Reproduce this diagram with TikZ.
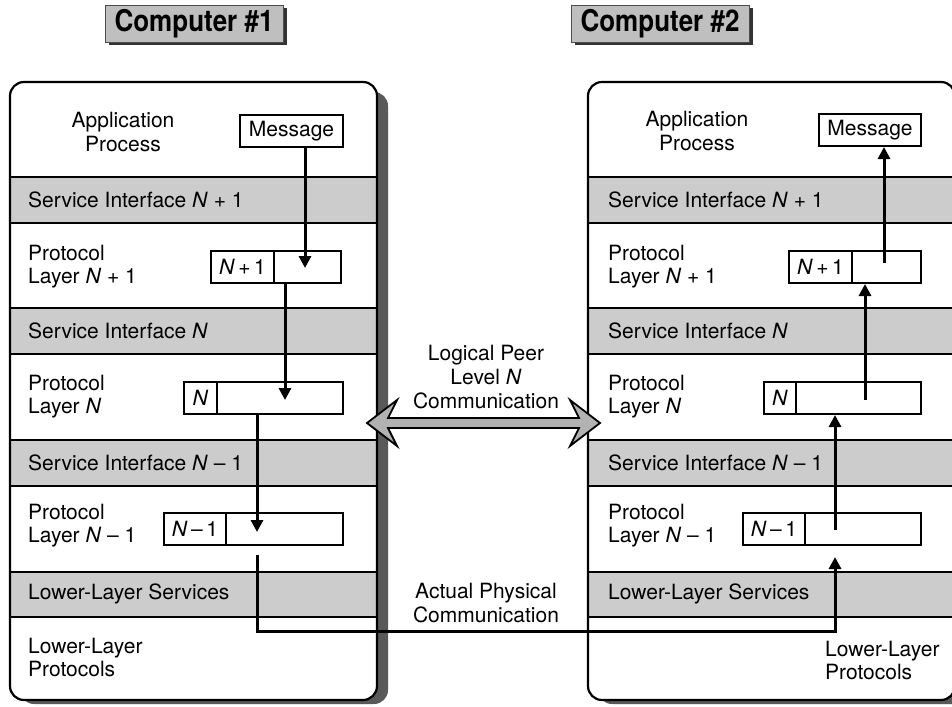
\documentclass[tikz,border=0pt]{standalone}
\usepackage{fontspec}
\setmainfont{TeX Gyre Heros}
\usetikzlibrary{arrows.meta,shadows}
\begin{document}
\begin{tikzpicture}[x=1pt,y=-1pt,
  lbl/.style={inner sep=0pt, font=\fontsize{21}{23}\selectfont, align=left},
  clbl/.style={inner sep=0pt, font=\fontsize{21}{24}\selectfont, align=center},
  band/.style={fill=gray!40, draw=black, line width=1.2pt},
  hostshadow/.style={fill=black!65, rounded corners=14pt},
  hostbox/.style={line width=2.2pt, rounded corners=14pt},
  title/.style={fill=gray!50, draw=black!70, line width=0.8pt, inner sep=0pt,
    minimum width=178pt, minimum height=37pt,
    font=\fontsize{26}{30}\selectfont\bfseries,
    drop shadow={shadow xshift=3.5pt, shadow yshift=-3.5pt, fill=black!80, opacity=1}},
  cell/.style={draw, line width=2pt, fill=white, inner sep=0pt, minimum height=32pt,
    anchor=north west, font=\fontsize{21}{23}\selectfont},
  msg/.style={draw, line width=2pt, fill=white, inner sep=0pt, minimum height=32pt,
    minimum width=103pt, anchor=north west, font=\fontsize{21}{23}\selectfont},
  flow/.style={line width=3pt, -{Triangle[length=12pt,width=12pt]}},
  peer/.style={fill=gray!60, draw=black, line width=1.8pt, line join=miter}]
\useasboundingbox (0,0) rectangle (952,706);
\clip (0,0) rectangle (952,706);

% ---- titles ----
\node[title] (titleL) at (194,23.5) {\scalebox{1}[1.15]{Computer \#1}};
\node[title] (titleR) at (660,23.5) {\scalebox{1}[1.15]{Computer \#2}};

% ---- host frames ----
\fill[hostshadow] (20,92) rectangle (388,704);
\fill[white, rounded corners=14pt] (10,82) rectangle (377,700);
\fill[hostshadow] (598,92) rectangle (966,704);
\fill[white, rounded corners=14pt] (588,82) rectangle (955,700);

% shaded service-interface bands
\foreach \y/\h in {177/223, 308/354, 440/486, 572/617}{
  \draw[band] (10,\y) rectangle (377,\h);
  \draw[band] (588,\y) rectangle (955,\h);
}
\draw[hostbox] (10,82) rectangle (377,700);
\draw[hostbox] (588,82) rectangle (955,700);

% ---- layer labels, computer 1 ----
\node[clbl] (appL) at (123,132) {Application\\Process};
\node[lbl, anchor=west] (siL1) at (28,200) {Service Interface \textit{N} + 1};
\node[lbl, anchor=west] (plL1) at (28,267) {Protocol\\Layer \textit{N} + 1};
\node[lbl, anchor=west] (siL2) at (28,331) {Service Interface \textit{N}};
\node[lbl, anchor=west] (plL2) at (28,397) {Protocol\\Layer \textit{N}};
\node[lbl, anchor=west] (siL3) at (28,463) {Service Interface \textit{N} – 1};
\node[lbl, anchor=west] (plL3) at (28,526) {Protocol\\Layer \textit{N} – 1};
\node[lbl, anchor=west] (lsL) at (28,594) {Lower-Layer Services};
\node[lbl, anchor=west] (lpL) at (28,657) {Lower-Layer\\Protocols};

% ---- layer labels, computer 2 ----
\node[clbl] (appR) at (697,131) {Application\\Process};
\node[lbl, anchor=west] (siR1) at (608,200) {Service Interface \textit{N} + 1};
\node[lbl, anchor=west] (plR1) at (608,267) {Protocol\\Layer \textit{N} + 1};
\node[lbl, anchor=west] (siR2) at (608,331) {Service Interface \textit{N}};
\node[lbl, anchor=west] (plR2) at (608,397) {Protocol\\Layer \textit{N}};
\node[lbl, anchor=west] (siR3) at (608,463) {Service Interface \textit{N} – 1};
\node[lbl, anchor=west] (plR3) at (608,526) {Protocol\\Layer \textit{N} – 1};
\node[lbl, anchor=west] (lsR) at (608,594) {Lower-Layer Services};
\node[lbl, anchor=west] (lpR) at (825,660) {Lower-Layer\\Protocols};

% ---- messages and packets, computer 1 ----
\node[msg] (msgL) at (239,114) {Message};
\node[cell, minimum width=63pt] (hL1) at (210,250) {\textit{N}\,+\,1};
\node[cell, minimum width=67pt] (bL1) at (273,250) {};
\node[cell, minimum width=33pt] (hL2) at (183,381) {\textit{N}};
\node[cell, minimum width=126pt] (bL2) at (216,381) {};
\node[cell, minimum width=62pt] (hL3) at (163,512) {\textit{N}\,–\,1};
\node[cell, minimum width=117pt] (bL3) at (225,512) {};

% ---- messages and packets, computer 2 ----
\node[msg, minimum width=102pt] (msgR) at (818,113) {Message};
\node[cell, minimum width=63pt] (hR1) at (788,250) {\textit{N}\,+\,1};
\node[cell, minimum width=69pt] (bR1) at (851,250) {};
\node[cell, minimum width=32pt] (hR2) at (763,381) {\textit{N}};
\node[cell, minimum width=125pt] (bR2) at (795,381) {};
\node[cell, minimum width=62pt] (hR3) at (742,512) {\textit{N}\,–\,1};
\node[cell, minimum width=116pt] (bR3) at (804,512) {};

% ---- downward path through computer 1 ----
\coordinate (inL1) at (305,268);
\coordinate (inL2) at (285,400);
\coordinate (inL3) at (257,532);
\coordinate (outL3) at (257,555);
\draw[flow] (msgL.south -| inL1) -- (inL1);
\draw[flow] (bL1.south -| inL2) -- (inL2);
\draw[flow] (bL2.south -| inL3) -- (inL3);

% ---- physical link and upward path through computer 2 ----
\coordinate (inR3) at (835,557);
\coordinate (bend) at (835,631);
\draw[flow] (outL3) |- (bend) -- (inR3);
\coordinate (outR3) at (835,530);
\coordinate (outR2) at (865,400);
\coordinate (outR1) at (884,263);
\draw[flow] (outR3) -- (outR3 |- bR2.south);
\draw[flow] (outR2) -- (outR2 |- bR1.south);
\draw[flow] (outR1) -- (outR1 |- msgR.south);

% ---- middle labels ----
\node[clbl] (peerlbl) at (486,377) {Logical Peer\\Level \textit{N}\\Communication};
\node[clbl] (physlbl) at (486,603) {Actual Physical\\Communication};

% ---- logical peer double arrow ----
\coordinate (peerL) at (367,423);
\coordinate (peerR) at (600,423);
\filldraw[peer] (peerL) -- ([shift={(30,-23)}]peerL) -- ([shift={(21,-5)}]peerL)
  -- ([shift={(-21,-5)}]peerR) -- ([shift={(-30,-23)}]peerR) -- (peerR)
  -- ([shift={(-30,23)}]peerR) -- ([shift={(-21,5)}]peerR)
  -- ([shift={(21,5)}]peerL) -- ([shift={(30,23)}]peerL) -- cycle;
\end{tikzpicture}
\end{document}
